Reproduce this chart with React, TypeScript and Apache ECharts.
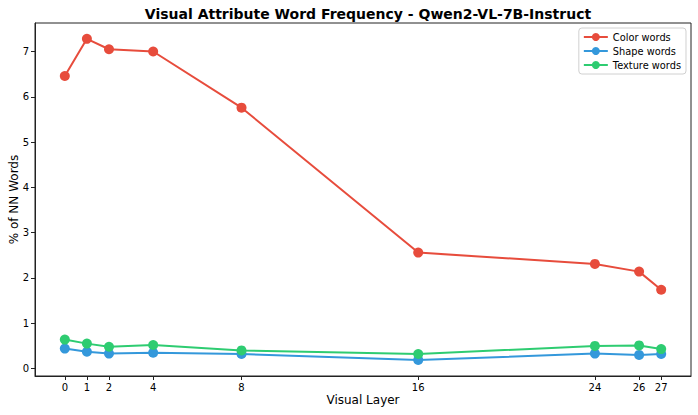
import React, { useEffect, useRef } from "react";
import * as echarts from "echarts";

const layers = [0, 1, 2, 4, 8, 16, 24, 26, 27];
const colorWords = [6.46, 7.28, 7.05, 7.0, 5.76, 2.56, 2.31, 2.14, 1.74];
const shapeWords = [0.44, 0.37, 0.33, 0.35, 0.32, 0.19, 0.33, 0.3, 0.32];
const textureWords = [0.64, 0.55, 0.48, 0.52, 0.4, 0.32, 0.5, 0.51, 0.43];
const yTicks = [0, 1, 2, 3, 4, 5, 6, 7];

const FONT = "DejaVu Sans";

export default function App() {
  const ref = useRef<HTMLDivElement>(null);
  useEffect(() => {
    const chart = echarts.init(ref.current!, null, { renderer: "svg" });
    const mk = (name: string, vals: number[], color: string) => ({
      name,
      type: "line",
      data: layers.map((l, i) => [l, vals[i]]),
      symbol: "circle",
      symbolSize: 10,
      lineStyle: { width: 2, color },
      itemStyle: { color },
      z: 3,
    });
    chart.setOption({
      animation: false,
      textStyle: { fontFamily: FONT },
      title: {
        text: "Visual Attribute Word Frequency - Qwen2-VL-7B-Instruct",
        left: 363,
        textAlign: "center",
        top: 2,
        textStyle: { fontFamily: FONT, fontSize: 14, fontWeight: "bold", color: "#000" },
      },
      legend: {
        right: 12,
        top: 28,
        orient: "vertical",
        itemWidth: 24,
        itemHeight: 10,
        itemGap: 4,
        padding: [4, 5, 4, 4],
        borderColor: "#d0d0d0",
        borderWidth: 1,
        borderRadius: 3,
        backgroundColor: "#fff",
        textStyle: { fontFamily: FONT, fontSize: 9.8, color: "#000" },
        data: ["Color words", "Shape words", "Texture words"],
      },
      grid: {
        left: 35,
        right: 7,
        top: 23,
        bottom: 39,
        containLabel: false,
        outerBoundsMode: "none",
        show: true,
        borderColor: "#222",
        borderWidth: 1,
      },
      xAxis: {
        type: "value",
        min: -1.35,
        max: 28.35,
        name: "Visual Layer",
        nameLocation: "middle",
        nameGap: 18,
        nameMoveOverlap: false,
        nameTextStyle: { fontFamily: FONT, fontSize: 12, color: "#000", verticalAlign: "top" },
        splitLine: { show: false },
        axisLine: { show: true, onZero: false, lineStyle: { color: "#222" } },
        axisTick: { show: true, length: 4, customValues: layers, lineStyle: { color: "#222" } },
        axisLabel: { customValues: layers, fontFamily: FONT, fontSize: 10, color: "#000", margin: 6 },
      },
      yAxis: {
        type: "value",
        min: -0.165,
        max: 7.63,
        name: "% of NN Words",
        nameLocation: "middle",
        nameGap: 15,
        nameMoveOverlap: false,
        nameTextStyle: { fontFamily: FONT, fontSize: 12, color: "#000", verticalAlign: "bottom" },
        splitLine: { show: false },
        axisLine: { show: true, onZero: false, lineStyle: { color: "#222" } },
        axisTick: { show: true, length: 4, customValues: yTicks, lineStyle: { color: "#222" } },
        axisLabel: { customValues: yTicks, fontFamily: FONT, fontSize: 10, color: "#000", margin: 6 },
      },
      series: [
        mk("Color words", colorWords, "#e74c3c"),
        mk("Shape words", shapeWords, "#3498db"),
        mk("Texture words", textureWords, "#2ecc71"),
      ],
    });
    return () => chart.dispose();
  }, []);
  return <div ref={ref} style={{ width: 698, height: 415, position: "absolute", left: 0, top: 0 }} />;
}
